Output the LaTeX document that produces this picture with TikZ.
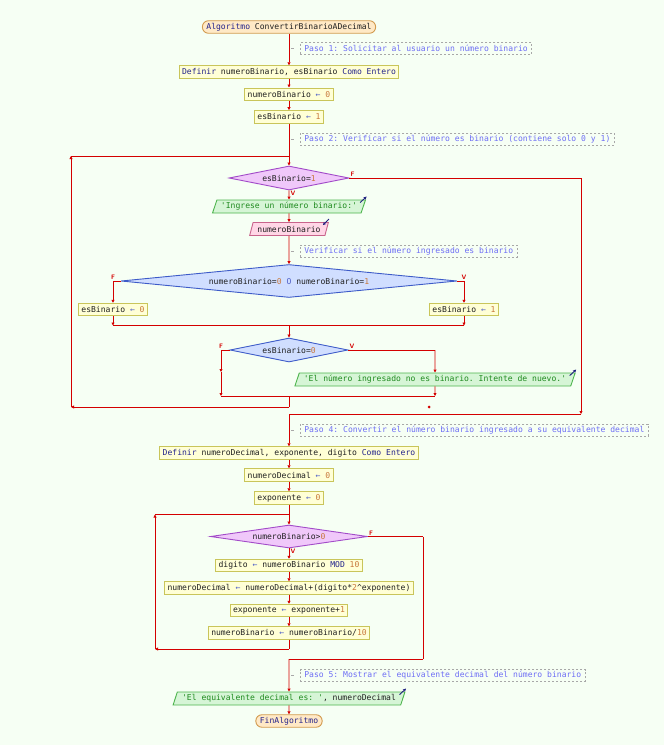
\documentclass[tikz,border=0pt]{standalone}
\usepackage{fontspec}
\setmonofont{DejaVu Sans Mono}
\usetikzlibrary{shapes.geometric,arrows.meta}
\definecolor{bg}{HTML}{F6FFF4}
\definecolor{procfill}{HTML}{FFFFD6}
\definecolor{procdraw}{HTML}{C9C55A}
\definecolor{startfill}{HTML}{FFE9C6}
\definecolor{startdraw}{HTML}{D29A4E}
\definecolor{commtext}{HTML}{6E6EF5}
\definecolor{commdraw}{HTML}{A8A8A8}
\definecolor{whilefill}{HTML}{F0C8FA}
\definecolor{whiledraw}{HTML}{A24BC8}
\definecolor{iffill}{HTML}{D0DEFF}
\definecolor{ifdraw}{HTML}{3D5BC8}
\definecolor{outfill}{HTML}{D6F5D6}
\definecolor{outdraw}{HTML}{4DB54D}
\definecolor{infill}{HTML}{FFD6E6}
\definecolor{indraw}{HTML}{C8648C}
\definecolor{strc}{HTML}{1F8A1F}
\definecolor{kwc}{HTML}{24248C}
\definecolor{numc}{HTML}{C8783C}
\definecolor{opc}{HTML}{5060C8}
\definecolor{varc}{HTML}{202020}
\definecolor{flowred}{HTML}{D40000}
\definecolor{iconc}{HTML}{202080}
\newcommand\kwd[1]{\textcolor{kwc}{#1}}
\newcommand\nmb[1]{\textcolor{numc}{#1}}
\newcommand\asg{\textcolor{opc}{←}}
\newcommand\strg[1]{\textcolor{strc}{#1}}
\tikzset{
  base/.style={font=\ttfamily\fontsize{8.1}{9}\selectfont, text=varc, line width=0.9bp, inner ysep=0pt, inner xsep=3bp, minimum height=12.5bp},
  proc/.style={base, rectangle, draw=procdraw, fill=procfill},
  term/.style={base, rectangle, rounded corners=6bp, draw=startdraw, fill=startfill, inner xsep=4bp},
  comm/.style={base, rectangle, draw=commdraw, dash pattern=on 2bp off 2bp, line width=0.6bp, text=commtext, inner xsep=4bp, anchor=west, minimum height=12bp},
  whiled/.style={base, diamond, aspect=6, inner sep=0pt, draw=whiledraw, fill=whilefill},
  ifd/.style={base, diamond, aspect=6, inner sep=0pt, draw=ifdraw, fill=iffill},
  para/.style={base, trapezium, trapezium left angle=62, trapezium right angle=118, trapezium stretches=true, minimum height=13bp},
  outp/.style={para, draw=outdraw, fill=outfill},
  inp/.style={para, draw=indraw, fill=infill},
  flow/.style={draw=flowred, line width=0.9bp},
  arr/.style={flow, -{Triangle[length=3bp,width=3bp]}},
  lab/.style={text=flowred, font=\sffamily\bfseries\fontsize{6.5}{6.5}\selectfont, inner sep=0pt},
  cline/.style={draw=commdraw, dash pattern=on 3bp off 9bp, line width=0.6bp},
  icon/.style={draw=iconc, line width=0.9bp, -{Stealth[length=3.2bp,width=3.2bp]}},
}
\begin{document}
\begin{tikzpicture}[x=1bp,y=-1bp]
\fill[bg, use as bounding box] (0,0) rectangle (664,745);

% nodes
\node[term] (start) at (289,27) {\kwd{Algoritmo} ConvertirBinarioADecimal};
\node[comm] (c1) at (300,48.5) {Paso 1: Solicitar al usuario un número binario};
\node[proc] (def1) at (289,72) {\kwd{Definir} numeroBinario, esBinario \kwd{Como Entero}};
\node[proc] (a1) at (289,94.2) {numeroBinario \asg{} \nmb{0}};
\node[proc] (a2) at (289,116.8) {esBinario \asg{} \nmb{1}};
\node[comm] (c2) at (300,139) {Paso 2: Verificar si el número es binario (contiene solo 0 y 1)};
\node[whiled, minimum width=120bp, minimum height=24bp] (d1) at (289,178) {esBinario=\nmb{1}};
\node[outp, minimum width=153bp] (o1) at (289,206.5) {\strg{'Ingrese un número binario:'}};
\node[inp, minimum width=79bp] (i1) at (289,229) {numeroBinario};
\node[comm] (c3) at (300,251) {Verificar si el número ingresado es binario};
\node[ifd, minimum width=336bp, minimum height=24bp] (d2) at (289,281) {numeroBinario=\nmb{0} \textcolor{opc}{O} numeroBinario=\nmb{1}};
\node[proc] (b1) at (113,309.5) {esBinario \asg{} \nmb{0}};
\node[proc] (b2) at (464,309.5) {esBinario \asg{} \nmb{1}};
\node[ifd, minimum width=118bp, minimum height=24bp] (d3) at (289,350) {esBinario=\nmb{0}};
\node[outp, minimum width=281bp] (o2) at (435,379.5) {\strg{'El número ingresado no es binario. Intente de nuevo.'}};
\node[circle, fill=flowred, inner sep=0pt, minimum size=3bp] (dot) at (429,407) {};
\node[comm] (c4) at (300,430) {Paso 4: Convertir el número binario ingresado a su equivalente decimal};
\node[proc] (def2) at (289,453) {\kwd{Definir} numeroDecimal, exponente, digito \kwd{Como Entero}};
\node[proc] (a3) at (289,475) {numeroDecimal \asg{} \nmb{0}};
\node[proc] (a4) at (289,498) {exponente \asg{} \nmb{0}};
\node[whiled, minimum width=157bp, minimum height=23bp] (d4) at (289,536.5) {numeroBinario>\nmb{0}};
\node[proc] (a5) at (289,565.5) {digito \asg{} numeroBinario \textcolor{kwc}{MOD} \nmb{10}};
\node[proc] (a6) at (289,588) {numeroDecimal \asg{} numeroDecimal+(digito*\nmb{2}\textasciicircum exponente)};
\node[proc] (a7) at (289,610.5) {exponente \asg{} exponente+\nmb{1}};
\node[proc] (a8) at (289,633) {numeroBinario \asg{} numeroBinario/\nmb{10}};
\node[comm] (c5) at (300,675.5) {Paso 5: Mostrar el equivalente decimal del número binario};
\node[outp, minimum width=232bp] (o3) at (289,698.5) {\strg{'El equivalente decimal es: '}, numeroDecimal};
\node[term] (end) at (289,721) {\kwd{FinAlgoritmo}};

% coordinates
\coordinate (k1) at (291,48.5);
\coordinate (k2) at (291,139);
\coordinate (k3) at (291,251);
\coordinate (k4) at (291,430);
\coordinate (k5) at (291,675.5);
\coordinate (L1top) at (289,156);
\coordinate (L1tl) at (71,156);
\coordinate (L1bl) at (71,407);
\coordinate (L1b) at (289,407);
\coordinate (d2F) at (113,281);
\coordinate (d2V) at (464,281);
\coordinate (M1l) at (113,325.5);
\coordinate (M1r) at (464,325.5);
\coordinate (M1) at (289,325.5);
\coordinate (d3F) at (221,350);
\coordinate (d3Fm) at (221,372);
\coordinate (M2l) at (221,396);
\coordinate (d3V) at (435,350);
\coordinate (M2r) at (435,396);
\coordinate (M2) at (289,396);
\coordinate (d1F) at (581,178);
\coordinate (d1Fb) at (581,414);
\coordinate (J1) at (289,414);
\coordinate (L2top) at (289,514.5);
\coordinate (L2tl) at (155,514.5);
\coordinate (L2bl) at (155,649);
\coordinate (L2b) at (289,649);
\coordinate (d4F) at (423,536.5);
\coordinate (d4Fb) at (423,659);
\coordinate (J2) at (289,659);

% comment connectors
\draw[cline] (k1) -- (c1.west);
\draw[cline] (k2) -- (c2.west);
\draw[cline] (k3) -- (c3.west);
\draw[cline] (k4) -- (c4.west);
\draw[cline] (k5) -- (c5.west);

% flow
\draw[arr] (start) -- (def1);
\draw[arr] (def1) -- (a1);
\draw[arr] (a1) -- (a2);
\draw[arr] (a2) -- (d1);
\draw[arr] (d1) -- (o1);
\draw[arr] (o1) -- (i1);
\draw[arr] (i1) -- (d2);
\draw[flow] (d2.west) -- (d2F);
\draw[arr] (d2F) -- (b1);
\draw[flow] (d2.east) -- (d2V);
\draw[arr] (d2V) -- (b2);
\draw[arr] (b1) -- (M1l);
\draw[arr] (b2) -- (M1r);
\draw[flow] (M1l) -- (M1r);
\draw[arr] (M1) -- (d3);
\draw[flow] (d3.west) -- (d3F);
\draw[arr] (d3F) -- (d3Fm);
\draw[arr] (d3Fm) -- (M2l);
\draw[flow] (d3.east) -- (d3V);
\draw[arr] (d3V) -- (o2);
\draw[arr] (o2) -- (M2r);
\draw[flow] (M2l) -- (M2r);
\draw[flow] (M2) -- (L1b);
\draw[arr] (L1b) -- (L1bl);
\draw[arr] (L1bl) -- (L1tl);
\draw[flow] (L1tl) -- (L1top);
\draw[flow] (d1.east) -- (d1F);
\draw[arr] (d1F) -- (d1Fb);
\draw[flow] (d1Fb) -- (J1);
\draw[arr] (J1) -- (def2);
\draw[arr] (def2) -- (a3);
\draw[arr] (a3) -- (a4);
\draw[arr] (a4) -- (d4);
\draw[arr] (d4) -- (a5);
\draw[arr] (a5) -- (a6);
\draw[arr] (a6) -- (a7);
\draw[arr] (a7) -- (a8);
\draw[flow] (a8) -- (L2b);
\draw[arr] (L2b) -- (L2bl);
\draw[arr] (L2bl) -- (L2tl);
\draw[flow] (L2tl) -- (L2top);
\draw[flow] (d4.east) -- (d4F);
\draw[flow] (d4F) -- (d4Fb);
\draw[flow] (d4Fb) -- (J2);
\draw[arr] (J2) -- (o3);
\draw[arr] (o3) -- (end);

% branch labels
\node[lab, anchor=south west] (f1) at ([shift={(1,-1)}]d1.east) {F};
\node[lab, anchor=north west] (v1) at ([shift={(1.5,0.5)}]d1.south) {V};
\node[lab, anchor=south] (f2) at ([shift={(0,-1.5)}]d2F) {F};
\node[lab, anchor=south] (v2) at ([shift={(0,-1.5)}]d2V) {V};
\node[lab, anchor=south] (f3) at ([shift={(0,-1.5)}]d3F) {F};
\node[lab, anchor=south west] (v3) at ([shift={(1,-1)}]d3.east) {V};
\node[lab, anchor=south west] (f4) at ([shift={(1,-1)}]d4.east) {F};
\node[lab, anchor=north west] (v4) at ([shift={(1.5,0.5)}]d4.south) {V};

% in/out icons
\draw[icon] ([shift={(-6,3)}]o1.top right corner) -- ([shift={(0.5,-3)}]o1.top right corner);
\draw[icon] ([shift={(-6,3)}]o2.top right corner) -- ([shift={(0.5,-3)}]o2.top right corner);
\draw[icon] ([shift={(-6,3)}]o3.top right corner) -- ([shift={(0.5,-3)}]o3.top right corner);
\draw[icon] ([shift={(0,-3)}]i1.top right corner) -- ([shift={(-6,3)}]i1.top right corner);
\end{tikzpicture}
\end{document}
